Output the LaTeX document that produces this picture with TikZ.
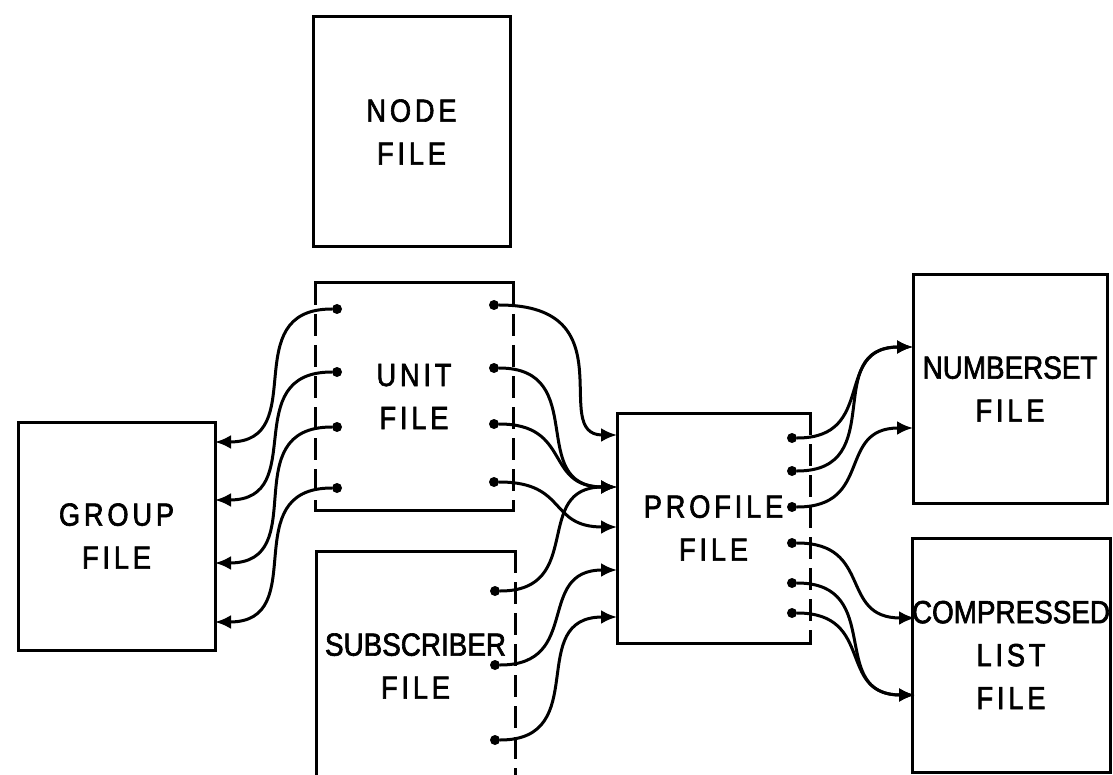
\documentclass[tikz,border=0pt]{standalone}
\usepackage{fontspec}
\setmainfont{Liberation Sans}[FakeStretch=0.85,FakeBold=2,LetterSpace=12]
\newfontfamily\tightfont{Liberation Sans}[FakeStretch=0.87,FakeBold=2]
\usetikzlibrary{arrows.meta}

\begin{document}
\begin{tikzpicture}[
  x=1pt, y=-1pt,
  box/.style={draw, line width=3pt, inner sep=0pt, outer sep=0pt,
    minimum width=197pt, minimum height=228pt, align=center,
    font=\fontsize{32}{43}\selectfont},
  openbox/.style={box, draw=none},
  wall/.style={line width=3pt, line cap=rect},
  gapwall/.style={line width=3pt, dash pattern=on 22pt off 9pt},
  portdot/.style={circle, fill, inner sep=0pt, minimum size=10pt},
  arrow/.style={-{Latex[length=16pt,width=14pt]}, line width=3pt, looseness=1.4}
]
\useasboundingbox (0,0) rectangle (1113,775);

% files
\node[box, minimum height=230pt] (nodefile) at (411.5,132) {NODE\\FILE};
\node[openbox, minimum width=198pt, minimum height=227pt] (unit) at (414,396.5) {UNIT\\FILE};
\node[box] (group) at (116.5,536) {GROUP\\FILE};
\node[openbox, minimum width=199pt, minimum height=230pt] (subscriber) at (415.5,666) {{\tightfont SUBSCRIBER}\\FILE};
\node[openbox, minimum width=193pt, minimum height=230pt] (profile) at (713.5,528) {PROFILE\\FILE};
\node[box, minimum width=194pt] (numberset) at (1010,389) {{\tightfont NUMBERSET}\\FILE};
\node[box, minimum width=192pt, minimum height=234pt] (compressed) at (1011,655) {{\tightfont COMPRESSED}\\LIST\\FILE};

% outlines with open (dashed) sides
\draw[wall] (unit.north west) -- (unit.north east);
\draw[wall] (unit.south west) -- (unit.south east);
\draw[gapwall] (unit.north west) -- (unit.south west);
\draw[gapwall] (unit.north east) -- (unit.south east);
\draw[wall] (subscriber.south west) -- (subscriber.north west) -- (subscriber.north east);
\draw[gapwall] (subscriber.north east) -- (subscriber.south east);
\draw[wall] (profile.north east) -- (profile.north west) -- (profile.south west) -- (profile.south east);
\draw[gapwall] (profile.north east) -- (profile.south east);

% ports
\node[portdot] (ul1) at (337,309) {};
\node[portdot] (ul2) at (337,372) {};
\node[portdot] (ul3) at (337,427) {};
\node[portdot] (ul4) at (337,488) {};
\node[portdot] (ur1) at (494,305) {};
\node[portdot] (ur2) at (494,368) {};
\node[portdot] (ur3) at (494,424) {};
\node[portdot] (ur4) at (494,482) {};
\node[portdot] (s1) at (495,591) {};
\node[portdot] (s2) at (495,665) {};
\node[portdot] (s3) at (495,740) {};
\node[portdot] (pr1) at (792,438) {};
\node[portdot] (pr2) at (792,471) {};
\node[portdot] (pr3) at (792,507) {};
\node[portdot] (pr4) at (792,543) {};
\node[portdot] (pr5) at (792,583) {};
\node[portdot] (pr6) at (792,613) {};

% arrow ends on the file sides
\coordinate (g1) at (215,442);
\coordinate (g2) at (215,500);
\coordinate (g3) at (215,563);
\coordinate (g4) at (215,622);
\coordinate (p1) at (617,435);
\coordinate (p2) at (617,487);
\coordinate (p3) at (617,527);
\coordinate (p4) at (617,570);
\coordinate (p5) at (617,617);
\coordinate (n1) at (913,347);
\coordinate (n2) at (913,428);
\coordinate (c1) at (915,618);
\coordinate (c2) at (915,695);

\draw[arrow] (ul1) to[out=180, in=0] (g1);
\draw[arrow] (ul2) to[out=180, in=0] (g2);
\draw[arrow] (ul3) to[out=180, in=0] (g3);
\draw[arrow] (ul4) to[out=180, in=0] (g4);

\draw[arrow] (ur1) to[out=0, in=180, out looseness=1.9, in looseness=1] (p1);
\draw[arrow] (ur2) to[out=0, in=180] (p2);
\draw[arrow] (ur3) to[out=0, in=180] (p2);
\draw[arrow] (ur4) to[out=0, in=180] (p3);
\draw[arrow] (s1) to[out=0, in=180] (p2);
\draw[arrow] (s2) to[out=0, in=180] (p4);
\draw[arrow] (s3) to[out=0, in=180] (p5);

\draw[arrow] (pr1) to[out=0, in=180] (n1);
\draw[arrow] (pr2) to[out=0, in=180] (n1);
\draw[arrow] (pr3) to[out=0, in=180] (n2);
\draw[arrow] (pr4) to[out=0, in=180] (c1);
\draw[arrow] (pr5) to[out=0, in=180] (c2);
\draw[arrow] (pr6) to[out=0, in=180] (c2);
\end{tikzpicture}
\end{document}
